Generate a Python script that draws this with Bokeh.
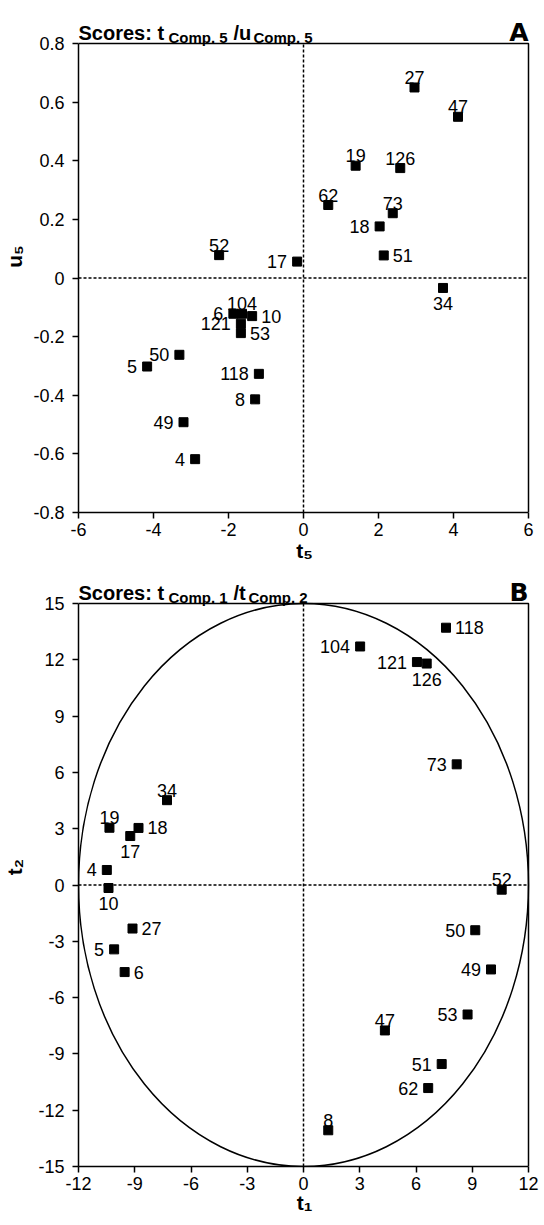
from bokeh.plotting import figure
from bokeh.models import Range1d, FixedTicker, ColumnDataSource
from bokeh.layouts import column
from bokeh.core.properties import value
from bokeh.embed import file_html
from bokeh.resources import INLINE

FONT = "Liberation Sans"

# ---------------- Panel A data: t5 / u5 scores ----------------
ids_a = ["27", "47", "19", "126", "62", "73", "18", "51", "34", "52", "17",
         "104", "6", "10", "121", "53", "50", "5", "118", "8", "49", "4"]
t5 = [2.96, 4.12, 1.39, 2.58, 0.66, 2.38, 2.03, 2.14, 3.72, -2.25, -0.17,
      -1.64, -1.87, -1.37, -1.67, -1.67, -3.31, -4.17, -1.19, -1.29, -3.20, -2.89]
u5 = [0.65, 0.55, 0.383, 0.375, 0.249, 0.221, 0.176, 0.077, -0.034, 0.078, 0.056,
      -0.122, -0.122, -0.13, -0.156, -0.188, -0.262, -0.302, -0.327, -0.414, -0.492, -0.618]
pos_a = ["above", "above", "above", "above", "above", "above", "left", "right", "below", "above", "left",
         "above", "left", "right", "left", "right", "left", "left", "left", "left", "left", "left"]
xlim_a = (-6, 6)
ylim_a = (-0.8, 0.8)
xticks_a = [-6, -4, -2, 0, 2, 4, 6]
xlabels_a = ["-6", "-4", "-2", "0", "2", "4", "6"]
yticks_a = [-0.8, -0.6, -0.4, -0.2, 0, 0.2, 0.4, 0.6, 0.8]
ylabels_a = ["-0.8", "-0.6", "-0.4", "-0.2", "0", "0.2", "0.4", "0.6", "0.8"]
title_a = ["Scores: t", "Comp. 5", "/u", "Comp. 5"]
xlabel_a, ylabel_a = "t\u2085", "u\u2085"

# ---------------- Panel B data: t1 / t2 scores ----------------
ids_b = ["118", "104", "121", "126", "73", "52", "50", "49", "53", "47", "51",
         "62", "8", "34", "19", "17", "18", "4", "10", "27", "5", "6"]
t1 = [7.60, 3.02, 6.05, 6.57, 8.17, 10.57, 9.16, 10.0, 8.75, 4.34, 7.37,
      6.65, 1.32, -7.28, -10.35, -9.24, -8.80, -10.49, -10.40, -9.12, -10.10, -9.54]
t2 = [13.71, 12.71, 11.88, 11.80, 6.43, -0.25, -2.41, -4.5, -6.90, -7.75, -9.54,
      -10.82, -13.07, 4.52, 3.05, 2.61, 3.04, 0.80, -0.16, -2.32, -3.43, -4.64]
pos_b = ["right", "left", "left", "below", "left", "above", "left", "left", "left", "above", "left",
         "left", "above", "above", "above", "below", "right", "left", "below", "right", "left", "right"]
xlim_b = (-12, 12)
ylim_b = (-15, 15)
xticks_b = [-12, -9, -6, -3, 0, 3, 6, 9, 12]
xlabels_b = ["-12", "-9", "-6", "-3", "0", "3", "6", "9", "12"]
yticks_b = [-15, -12, -9, -6, -3, 0, 3, 6, 9, 12, 15]
ylabels_b = ["-15", "-12", "-9", "-6", "-3", "0", "3", "6", "9", "12", "15"]
title_b = ["Scores: t", "Comp. 1", "/t", "Comp. 2"]
xlabel_b, ylabel_b = "t\u2081", "t\u2082"

# label placement around a marker: (dx px, dy px, align, baseline)
OFFS = {
    "above": (0, -10, "center", "alphabetic"),
    "below": (0, 9, "center", "top"),
    "left": (-10, 0, "right", "middle"),
    "right": (9, 0, "left", "middle"),
}
# title pieces: (dx, dy, size)
TITLE_LAYOUT = [(0, -11, "20px"), (90, -6, "15px"), (155, -11, "20px"), (None, -6, "15px")]

W = 544
LEFT = 78
BOX_W = 450
PAD_PX = 2
TOP_B = 0


def make_panel(xs, ys, ids, pos, xlim, ylim, xt, xl, yt, yl, titles, letter,
               xlab, ylab, fig_h, box_top, box_h, ylab_standoff, xlab_standoff,
               sub2_dx, ellipse=False):
    bottom = fig_h - box_top - box_h
    ext = box_top - TOP_B
    xspan = xlim[1] - xlim[0]
    yspan = ylim[1] - ylim[0]
    x_end = xlim[1] + PAD_PX * xspan / BOX_W
    y_end = ylim[1] + ext * yspan / box_h
    frame_w = BOX_W + PAD_PX
    p = figure(width=W, height=fig_h,
               x_range=Range1d(xlim[0], x_end), y_range=Range1d(ylim[0], y_end),
               output_backend="svg", toolbar_location=None, title=None,
               min_border_left=LEFT, min_border_right=W - LEFT - frame_w,
               min_border_top=TOP_B, min_border_bottom=bottom)
    p.grid.visible = False
    p.outline_line_color = None
    p.background_fill_color = "white"
    p.border_fill_color = "white"
    for ax, ticks, labels, lim in ((p.xaxis, xt, xl, xlim), (p.yaxis, yt, yl, ylim)):
        ax.ticker = FixedTicker(ticks=ticks)
        ax.major_label_overrides = {t: s for t, s in zip(ticks, labels)}
        ax.bounds = lim
        ax.minor_tick_line_color = None
        ax.major_tick_in = 0
        ax.major_tick_out = 6
        ax.major_tick_line_width = 1.5
        ax.major_tick_line_color = "black"
        ax.axis_line_width = 1.5
        ax.axis_line_color = "black"
        ax.major_label_text_font = FONT
        ax.major_label_text_font_size = "18px"
        ax.major_label_text_color = "black"
        ax.axis_label_text_font = FONT
        ax.axis_label_text_font_size = "21px"
        ax.axis_label_text_font_style = "bold"
        ax.axis_label_text_color = "black"
    p.xaxis.major_label_standoff = 4
    p.yaxis.major_label_standoff = 8
    p.xaxis.axis_label = xlab
    p.yaxis.axis_label = ylab
    p.xaxis.axis_label_standoff = xlab_standoff
    p.yaxis.axis_label_standoff = ylab_standoff

    # box top and right edges (left / bottom edges are the axes)
    p.line(x=[xlim[0], xlim[1], xlim[1]], y=[ylim[1], ylim[1], ylim[0]],
           line_color="black", line_width=1.5)
    # zero reference lines
    p.line(x=[xlim[0], xlim[1]], y=[0, 0], line_color="black", line_dash="3 2", line_width=1.5)
    p.line(x=[0, 0], y=[ylim[0], ylim[1]], line_color="black", line_dash="3 2", line_width=1.5)
    if ellipse:
        p.ellipse(x=[0], y=[0], width=[xspan], height=[yspan],
                  fill_color=None, line_color="black", line_width=1.5)

    src = ColumnDataSource(dict(
        x=xs, y=ys, t=ids,
        dx=[OFFS[k][0] for k in pos], dy=[OFFS[k][1] for k in pos],
        al=[OFFS[k][2] for k in pos], bl=[OFFS[k][3] for k in pos]))
    p.scatter("x", "y", source=src, marker="square", size=9,
              fill_color="black", line_color="black")
    p.text("x", "y", text="t", source=src, x_offset="dx", y_offset="dy",
           text_align="al", text_baseline="bl",
           text_font=value(FONT), text_font_size=value("18px"), text_color="black")

    # title (inside the extended frame, above the box)
    tdx = [d if d is not None else sub2_dx for d, _, _ in TITLE_LAYOUT]
    tsrc = ColumnDataSource(dict(
        x=[xlim[0]] * len(titles), y=[ylim[1]] * len(titles), t=titles,
        dx=tdx, dy=[d for _, d, _ in TITLE_LAYOUT], s=[s for _, _, s in TITLE_LAYOUT]))
    p.text("x", "y", text="t", source=tsrc, x_offset="dx", y_offset="dy",
           text_align=value("left"), text_baseline=value("alphabetic"),
           text_font=value(FONT), text_font_size="s", text_font_style=value("bold"),
           text_color="black")
    p.text(x=[xlim[1]], y=[ylim[1]], text=[letter], y_offset=-11,
           text_align=value("right"), text_baseline=value("alphabetic"),
           text_font=value("DejaVu Sans"), text_font_size=value("25px"),
           text_font_style=value("bold"), text_color="black")
    return p


pa = make_panel(t5, u5, ids_a, pos_a, xlim_a, ylim_a, xticks_a, xlabels_a,
                yticks_a, ylabels_a, title_a, "A", xlabel_a, ylabel_a,
                fig_h=567, box_top=43, box_h=469, ylab_standoff=4, xlab_standoff=0,
                sub2_dx=175)
pb = make_panel(t1, t2, ids_b, pos_b, xlim_b, ylim_b, xticks_b, xlabels_b,
                yticks_b, ylabels_b, title_b, "B", xlabel_b, ylabel_b,
                fig_h=656, box_top=36, box_h=563, ylab_standoff=9, xlab_standoff=-2,
                sub2_dx=170, ellipse=True)

layout = column(pa, pb, spacing=0)
open("out.html", "w").write(file_html(layout, INLINE))
